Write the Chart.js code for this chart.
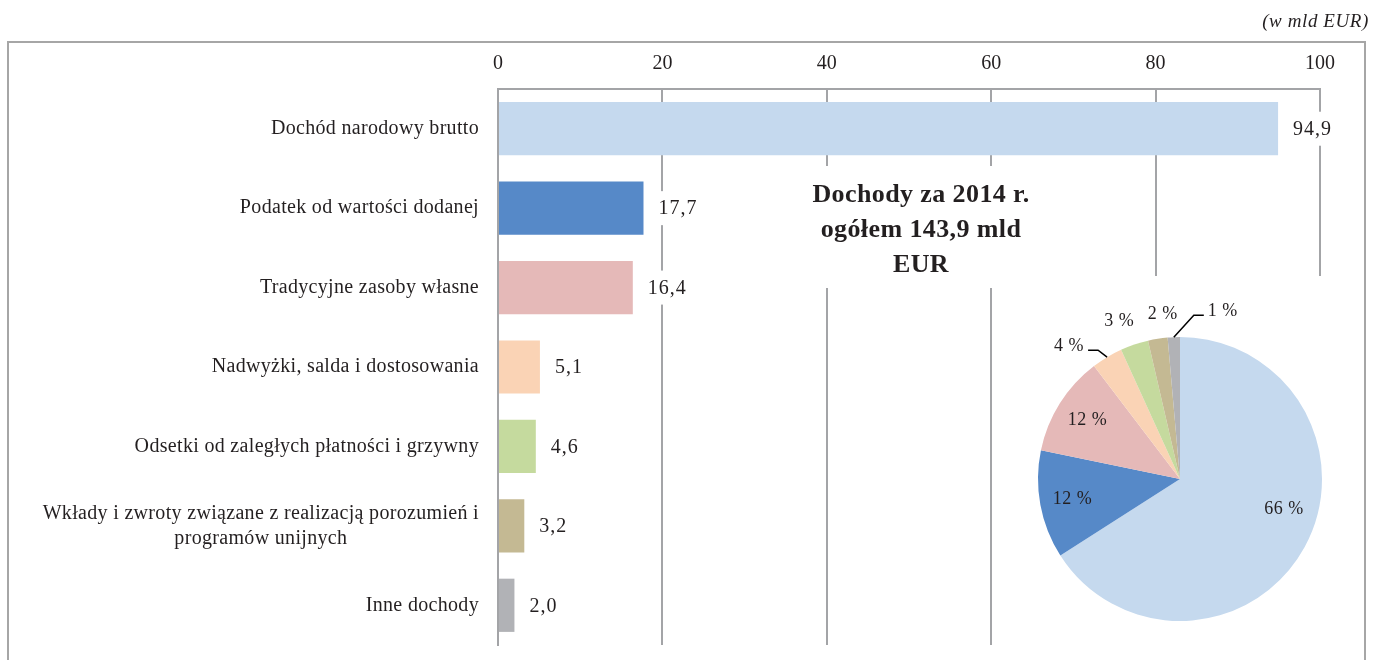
<!DOCTYPE html>
<html>
<head>
<meta charset="utf-8">
<script src="https://cdn.jsdelivr.net/npm/chart.js@4.4.1/dist/chart.umd.min.js"></script>
<style>
body{margin:0;background:#fff;overflow:hidden}
#wrap{position:relative;width:1386px;height:660px}
#bars{position:absolute;left:0;top:0}
#pie{position:absolute;left:1010px;top:276px;background:#fff}
</style>
</head>
<body>
<div id="wrap">
  <canvas id="bars" width="1386" height="660"></canvas>
  <canvas id="pie" width="330" height="369"></canvas>
</div>
<script>
// data (mld EUR, 2014)
const categories = [
  'Dochód narodowy brutto',
  'Podatek od wartości dodanej',
  'Tradycyjne zasoby własne',
  'Nadwyżki, salda i dostosowania',
  'Odsetki od zaległych płatności i grzywny',
  ['Wkłady i zwroty związane z realizacją porozumień i', 'programów unijnych'],
  'Inne dochody'
]
const values = [94.9, 17.7, 16.4, 5.1, 4.6, 3.2, 2.0]
const colors = ['#C5D9EE', '#5689C8', '#E5B9B8', '#FAD3B5', '#C5DA9E', '#C4B993', '#B1B2B6']
const xMin = 0, xMax = 100, xStep = 20
const pieLabels = ['66 %', '12 %', '12 %', '4 %', '3 %', '2 %', '1 %']
const unitLabel = '(w mld EUR)'
const titleLines = ['Dochody za 2014 r.', 'ogółem 143,9 mld', 'EUR']

const SERIF = '"Liberation Serif", "DejaVu Serif", serif'
const GRID = '#A3A4A7'
const TEXT = '#231F20'

const fmt = v => v.toFixed(1).replace('.', ',')

const framePlugin = {
  id: 'frame',
  beforeDraw(chart){
    const c = chart.ctx
    c.save()
    c.strokeStyle = '#A6A6A6'
    c.lineWidth = 2
    c.strokeRect(8, 42, 1357, 700)
    c.fillStyle = TEXT
    c.font = 'italic 19px ' + SERIF
    c.letterSpacing = '0.6px'
    c.textAlign = 'right'
    c.textBaseline = 'middle'
    c.fillText(unitLabel, 1369, 22)
    c.restore()
  }
}

const textPlugin = {
  id: 'texts',
  afterDraw(chart){
    const c = chart.ctx
    const y = chart.scales.y
    const area = chart.chartArea
    const meta = chart.getDatasetMeta(0)
    c.save()
    c.font = '20px ' + SERIF
    c.letterSpacing = '0.32px'
    c.fillStyle = TEXT
    c.textBaseline = 'middle'
    // category labels
    categories.forEach((lab, i) => {
      const py = y.getPixelForValue(i)
      const right = area.left - 19
      if (Array.isArray(lab)){
        const w = Math.max(...lab.map(l => c.measureText(l).width))
        c.textAlign = 'center'
        const lh = 25
        lab.forEach((l, k) => c.fillText(l, right - w / 2, py + (k - (lab.length - 1) / 2) * lh))
      } else {
        c.textAlign = 'right'
        c.fillText(lab, right, py)
      }
    })
    // value labels with white box
    c.textAlign = 'left'
    c.letterSpacing = '1px'
    meta.data.forEach((bar, i) => {
      const t = fmt(values[i])
      const w = c.measureText(t).width
      const tx = bar.x + 15
      c.fillStyle = '#fff'
      c.fillRect(tx - 4, bar.y - 17, w + 8, 34)
      c.fillStyle = TEXT
      c.fillText(t, tx, bar.y + 1)
    })
    // title box
    c.fillStyle = '#fff'
    c.fillRect(800, 166, 245, 122)
    c.fillStyle = TEXT
    c.font = 'bold 26px ' + SERIF
    c.letterSpacing = '0.4px'
    c.textAlign = 'center'
    titleLines.forEach((l, k) => c.fillText(l, 921, 195 + k * 35))
    c.restore()
  }
}

new Chart(document.getElementById('bars'), {
  type: 'bar',
  data: {
    labels: categories,
    datasets: [{data: values, backgroundColor: colors, borderWidth: 0, barPercentage: 0.67, categoryPercentage: 1}]
  },
  options: {
    indexAxis: 'y',
    responsive: false,
    animation: false,
    layout: {padding: {top: 42, right: 66, bottom: 15, left: 0}},
    plugins: {legend: {display: false}, tooltip: {enabled: false}},
    scales: {
      x: {
        position: 'top', min: xMin, max: xMax,
        ticks: {stepSize: xStep, padding: 13, color: TEXT, font: {family: SERIF, size: 20}},
        grid: {color: GRID, lineWidth: 2, drawTicks: false},
        border: {display: true, color: GRID, width: 2},
        afterFit: s => { s.height = 47 }
      },
      y: {
        ticks: {display: false},
        grid: {display: false},
        border: {display: true, color: GRID, width: 2},
        afterFit: s => { s.width = 498 }
      }
    }
  },
  plugins: [framePlugin, textPlugin]
})

const pieTextPlugin = {
  id: 'pieTexts',
  afterDatasetsDraw(chart){
    const c = chart.ctx
    const meta = chart.getDatasetMeta(0)
    c.save()
    c.font = '18px ' + SERIF
    c.letterSpacing = '0.5px'
    c.fillStyle = TEXT
    c.strokeStyle = '#000'
    c.lineWidth = 1.5
    c.textBaseline = 'middle'
    meta.data.forEach((a, i) => {
      const mid = (a.startAngle + a.endAngle) / 2
      const R = a.outerRadius
      const cx = Math.cos(mid), cy = Math.sin(mid)
      if (i < 3){
        const nudge = i === 0 ? [8, -22] : [0, 0]
        c.textAlign = 'center'
        c.fillText(pieLabels[i], a.x + cx * R * 0.77 + nudge[0], a.y + cy * R * 0.77 + nudge[1])
      } else if (i === 3 || i === 6){
        const p0 = [a.x + cx * R, a.y + cy * R]
        const d = i === 3 ? [-9, -7, -10] : [20, -22, 10]
        const p1 = [p0[0] + d[0], p0[1] + d[1]]
        const p2 = [p1[0] + d[2], p1[1]]
        c.beginPath()
        c.moveTo(p0[0], p0[1]); c.lineTo(p1[0], p1[1]); c.lineTo(p2[0], p2[1])
        c.stroke()
        c.textAlign = i === 3 ? 'right' : 'left'
        c.fillText(pieLabels[i], p2[0] + (i === 3 ? -4 : 4), p2[1] - 4)
      } else {
        const r = R + 25
        const nudge = i === 4 ? [-7, 0] : [9, 0]
        c.textAlign = 'center'
        c.fillText(pieLabels[i], a.x + cx * r + nudge[0], a.y + cy * r + nudge[1])
      }
    })
    c.restore()
  }
}

new Chart(document.getElementById('pie'), {
  type: 'pie',
  data: {labels: categories, datasets: [{data: values, backgroundColor: colors, borderWidth: 0}]},
  options: {
    responsive: false,
    animation: false,
    layout: {padding: {left: 28, right: 18, top: 61, bottom: 24}},
    plugins: {legend: {display: false}, tooltip: {enabled: false}}
  },
  plugins: [pieTextPlugin]
})
</script>
</body>
</html>
